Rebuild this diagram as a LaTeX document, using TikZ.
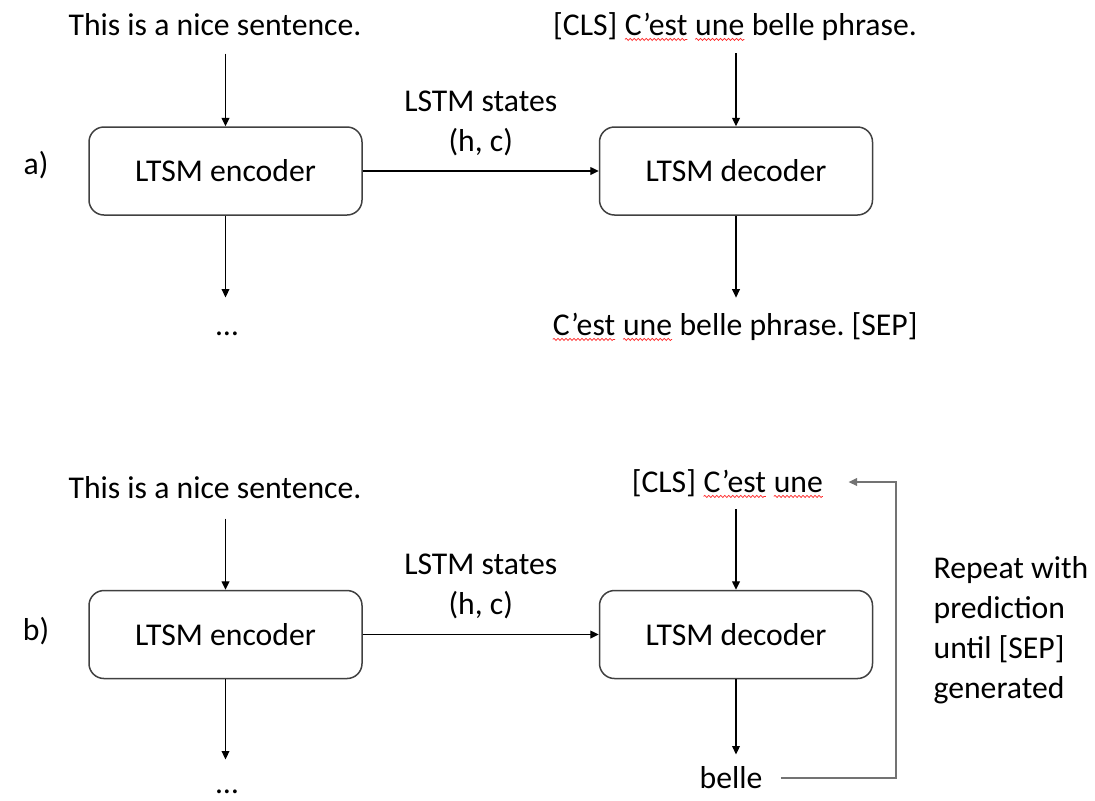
\documentclass[tikz,border=0pt]{standalone}
\usepackage{fontspec}
\setmainfont{Carlito}
\frenchspacing
\usetikzlibrary{positioning, arrows.meta, decorations.pathmorphing}

% red spell-check wave under a word
\newcommand\spellerr[1]{\tikz[baseline=0pt]{\node[inner sep=0pt, outer sep=0pt, anchor=base west] (sq) at (0,0) {#1};
  \draw[red!85, line width=0.35pt, decorate, decoration={snake, amplitude=0.55pt, segment length=2pt}]
    ([yshift=-2.2pt]sq.base west) -- ([yshift=-2.2pt]sq.base east);}}

\tikzset{
  lstm/.style={draw=black!75, line width=0.75pt, rounded corners=7.5pt,
    minimum width=136.5pt, minimum height=44pt, inner sep=0pt},
  txt/.style={inner sep=0pt, text height=10pt, text depth=0pt, anchor=base},
  states/.style={align=center, inner sep=0pt, above=7.5pt},
}

\begin{document}
\begin{tikzpicture}[x=0.5pt, y=-0.5pt, >={Triangle[length=4.2pt, width=3.9pt]},
    line width=0.6pt, font=\fontsize{15.85}{20}\selectfont]
  \useasboundingbox (0,0) rectangle (1095,800);

  % a)
  \node[txt] (labA) at (36,174) {a)};
  \node[txt] (inA) at (215,35) {This is a nice sentence.};
  \node[txt] (clsA) at (735,35) {[CLS] \spellerr{C’est} \spellerr{une} belle phrase.};
  \node[lstm] (encA) at (225.5,171) {LTSM encoder};
  \node[lstm] (decA) [right = 118pt of encA] {LTSM decoder};
  \node[txt] (dotsA) at (227,335) {…};
  \node[txt] (outA) at (735,335) {\spellerr{C’est} \spellerr{une} belle phrase. [SEP]};

  \path[->]
    (encA |- inA.south) edge [shorten <=9pt] (encA)
    (decA |- clsA.south) edge [shorten <=9pt] (decA)
    (encA) edge node [states] {LSTM states\\(h, c)} (decA)
    (encA) edge [shorten >=8.5pt] (encA |- dotsA.north)
    (decA) edge [shorten >=8.5pt] (decA |- outA.north)
  ;

  % b)
  \node[txt] (labB) at (36,640) {b)};
  \node[txt] (inB) at (215,498) {This is a nice sentence.};
  \node[txt] (clsB) at (727.5,492) {[CLS] \spellerr{C’est} \spellerr{une}};
  \node[lstm] (encB) at (225.5,634.5) {LTSM encoder};
  \node[lstm] (decB) [right = 118pt of encB] {LTSM decoder};
  \node[txt] (dotsB) at (227,793) {…};
  \node[txt] (belleB) at (731,788) {belle};
  \node[align=left, inner sep=0pt, anchor=base west] (repB) at (933,698)
    {Repeat with\\prediction\\until [SEP]\\generated};
  \coordinate (turnB) at (896,482);

  \path[->]
    (encB |- inB.south) edge [shorten <=10pt] (encB)
    (decB |- clsB.south) edge [shorten <=8.5pt] (decB)
    (encB) edge node [states] {LSTM states\\(h, c)} (decB)
    (encB) edge [shorten >=6.5pt] (encB |- dotsB.north)
    (decB) edge [shorten >=6.5pt] (decB |- belleB.north)
  ;
  \draw[->, black!55, shorten <=9pt, shorten >=12.5pt] (belleB.east) -| (turnB) -- (clsB.east);
\end{tikzpicture}
\end{document}
